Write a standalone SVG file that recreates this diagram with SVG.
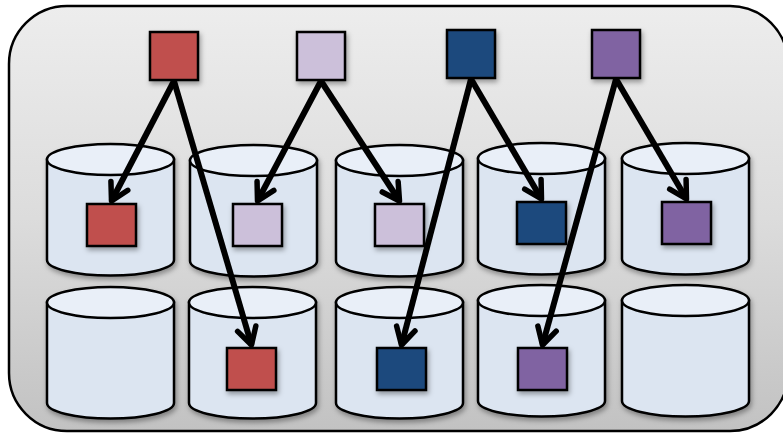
<svg xmlns="http://www.w3.org/2000/svg" width="783" height="433" viewBox="0 0 783 433">
<defs>
<linearGradient id="bg" x1="0" y1="0" x2="0" y2="1">
<stop offset="0" stop-color="#EDEDED"/>
<stop offset="0.5" stop-color="#DCDCDC"/>
<stop offset="1" stop-color="#C2C2C2"/>
</linearGradient>
<filter id="sh" x="-20%" y="-20%" width="150%" height="150%">
<feDropShadow dx="1.5" dy="3" stdDeviation="2.5" flood-color="#000" flood-opacity="0.35"/>
</filter>
<g id="cyl">
<path class="cylbody" d="M0,15.5 V116 A63.5,15.5 0 0 0 127,116 V15.5 Z"/>
<ellipse class="cyltop" cx="63.5" cy="15.5" rx="63.5" ry="15.5"/>
</g>
<marker id="arr" markerUnits="userSpaceOnUse" markerWidth="34" markerHeight="34" viewBox="-24 -17 34 34" refX="0" refY="0" orient="auto">
<path d="M-17,-9.5 L0,0 L-17,9.5" fill="none" stroke="#000" stroke-width="5.5" stroke-linejoin="round" stroke-linecap="round"/>
</marker>
</defs>
<style>
.cylbody{fill:#DCE5F1;stroke:#000;stroke-width:2.5}
.cyltop{fill:#E9EFF8;stroke:#000;stroke-width:2.5}
.sq{stroke:#000;stroke-width:2.5}
.red{fill:#C0504D}
.lil{fill:#CCC0DA}
.blu{fill:#1F497D}
.pur{fill:#8064A2}
.cn line{stroke:#000;stroke-width:6;marker-end:url(#arr)}
</style>
<rect x="0" y="0" width="783" height="433" fill="#FFFFFF"/>
<rect id="frame" x="9" y="6" width="779" height="425" rx="58" ry="58" fill="url(#bg)" stroke="#000" stroke-width="2.5"/>

<g id="r1c1" filter="url(#sh)"><use href="#cyl" x="47" y="144"/></g>
<g id="r1c2" filter="url(#sh)"><use href="#cyl" x="190" y="145"/></g>
<g id="r1c3" filter="url(#sh)"><use href="#cyl" x="336" y="145"/></g>
<g id="r1c4" filter="url(#sh)"><use href="#cyl" x="478" y="143"/></g>
<g id="r1c5" filter="url(#sh)"><use href="#cyl" x="622" y="143"/></g>
<g id="r2c1" filter="url(#sh)"><use href="#cyl" x="47" y="287"/></g>
<g id="r2c2" filter="url(#sh)"><use href="#cyl" x="189" y="287"/></g>
<g id="r2c3" filter="url(#sh)"><use href="#cyl" x="336" y="287"/></g>
<g id="r2c4" filter="url(#sh)"><use href="#cyl" x="478" y="285"/></g>
<g id="r2c5" filter="url(#sh)"><use href="#cyl" x="622" y="285"/></g>

<g id="src-red" filter="url(#sh)"><rect class="sq red" x="150" y="32" width="48" height="48"/></g>
<g id="src-lilac" filter="url(#sh)"><rect class="sq lil" x="297" y="32" width="48" height="48"/></g>
<g id="src-blue" filter="url(#sh)"><rect class="sq blu" x="447" y="30" width="48" height="48"/></g>
<g id="src-purple" filter="url(#sh)"><rect class="sq pur" x="592" y="30" width="48" height="48"/></g>

<g id="rep-r1c1" filter="url(#sh)"><rect class="sq red" x="87" y="204" width="49" height="42"/></g>
<g id="rep-r1c2" filter="url(#sh)"><rect class="sq lil" x="233" y="204" width="49" height="42"/></g>
<g id="rep-r1c3" filter="url(#sh)"><rect class="sq lil" x="375" y="204" width="49" height="42"/></g>
<g id="rep-r1c4" filter="url(#sh)"><rect class="sq blu" x="517" y="202" width="49" height="42"/></g>
<g id="rep-r1c5" filter="url(#sh)"><rect class="sq pur" x="662" y="202" width="49" height="42"/></g>
<g id="rep-r2c2" filter="url(#sh)"><rect class="sq red" x="227" y="348" width="49" height="42"/></g>
<g id="rep-r2c3" filter="url(#sh)"><rect class="sq blu" x="377" y="348" width="49" height="42"/></g>
<g id="rep-r2c4" filter="url(#sh)"><rect class="sq pur" x="518" y="348" width="49" height="42"/></g>

<g id="connectors" class="cn">
<line x1="174" y1="81" x2="111.5" y2="201"/>
<line x1="174" y1="81" x2="251.5" y2="345"/>
<line x1="321" y1="81" x2="257.5" y2="201"/>
<line x1="321" y1="81" x2="399.5" y2="201"/>
<line x1="471" y1="79" x2="541.5" y2="199"/>
<line x1="471" y1="79" x2="401.5" y2="345"/>
<line x1="616" y1="79" x2="686.5" y2="199"/>
<line x1="616" y1="79" x2="542.5" y2="345"/>
</g>
</svg>
